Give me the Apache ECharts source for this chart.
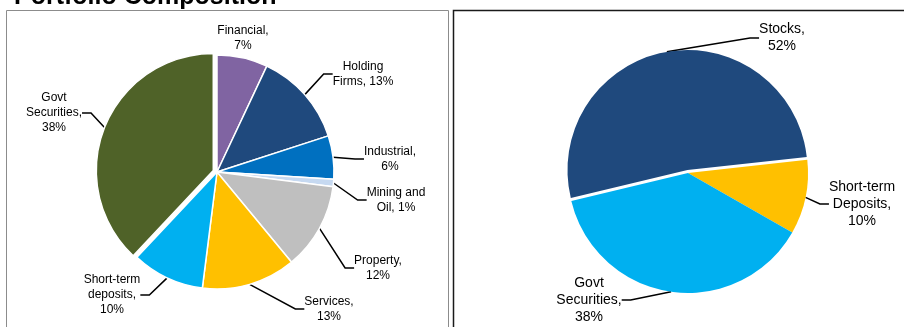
<!DOCTYPE html>
<html>
<head>
<meta charset="utf-8">
<script src="https://cdn.jsdelivr.net/npm/echarts@6/dist/echarts.min.js"></script>
<style>
  html, body { margin: 0; padding: 0; background: #fff; }
  #chart { width: 904px; height: 327px; }
</style>
</head>
<body>
<div id="chart"></div>
<script>
// left pie: sector split
const sectorNames = ['Financial', 'Holding Firms', 'Industrial', 'Mining and Oil', 'Property', 'Services', 'Short-term deposits', 'Govt Securities']
const sectorValues = [7, 13, 6, 1, 12, 13, 10, 38]
const sectorLabelText = ['Financial,', 'Holding\nFirms,', 'Industrial,', 'Mining and\nOil,', 'Property,', 'Services,', 'Short-term\ndeposits,', 'Govt\nSecurities,']
const sectorPctSameLine = [false, true, false, true, false, false, false, false]

// right pie: asset split
const assetNames = ['Stocks', 'Short-term Deposits', 'Govt Securities']
const assetValues = [52, 10, 38]
const assetLabelText = ['Stocks,', 'Short-term\nDeposits,', 'Govt\nSecurities,']

const sectorColors = ['#8064A2', '#1F497D', '#0070C0', '#C6D9F1', '#BFBFBF', '#FFC000', '#00B0F0', '#4F6228']
const assetColors = ['#1F497D', '#FFC000', '#00B0F0']

// label centres (px)
const sectorLabelPos = [[243, 38], [363, 74], [390, 159], [396, 200], [378, 268], [329, 309], [112, 295], [54, 113]]
const assetLabelPos = [[782, 38], [862, 204], [589, 300]]

const font = "'Liberation Sans', Arial, sans-serif"
const chart = echarts.init(document.getElementById('chart'))

// centre of an exploded slice: pull it out along its mid angle
function pulledCenter(center, values, idx, startAngle, offset) {
    const total = values.reduce((a, b) => a + b, 0)
    const before = values.slice(0, idx).reduce((a, b) => a + b, 0)
    const mid = (startAngle - (before + values[idx] / 2) / total * 360) * Math.PI / 180
    return [center[0] + Math.cos(mid) * offset, center[1] - Math.sin(mid) * offset]
}

// one pie drawn as two layers: base with the pulled slice hidden, top with only that slice
function pieLayers(opt) {
    const common = (visible) => ({
        type: 'pie',
        radius: opt.radius,
        startAngle: opt.startAngle,
        clockwise: true,
        silent: true,
        selectedMode: false,
        emphasis: { disabled: true },
        label: {
            color: '#000',
            fontFamily: font,
            fontSize: opt.fontSize,
            lineHeight: opt.lineHeight,
            align: 'center',
            overflow: 'none',
            formatter: opt.formatter
        },
        labelLine: { show: true, length: 8, length2: 9, lineStyle: { color: '#000', width: 1.5 } },
        labelLayout: (params) => {
            const p = opt.labelPos[params.dataIndex]
            return { x: p[0], y: p[1], align: 'center', verticalAlign: 'middle' }
        },
        data: opt.names.map((n, i) => {
            const show = visible(i)
            return {
                name: n,
                value: opt.values[i],
                itemStyle: show
                    ? { color: opt.colors[i], borderColor: '#fff', borderWidth: opt.borderWidth }
                    : { color: 'rgba(0,0,0,0)', borderWidth: 0 },
                label: { show: show },
                labelLine: { show: show && opt.names[i] !== opt.noLine }
            }
        })
    })
    const base = common((i) => i !== opt.pulled)
    base.center = opt.center
    const top = common((i) => i === opt.pulled)
    top.center = pulledCenter(opt.center, opt.values, opt.pulled, opt.startAngle, opt.offset)
    return [base, top]
}

chart.setOption({
    animation: false,
    title: {
        text: 'Portfolio Composition',
        left: 9,
        top: -20,
        textStyle: { fontFamily: font, fontSize: 25, fontWeight: 'bold', color: '#000' }
    },
    graphic: [
        { type: 'rect', shape: { x: 6.5, y: 10.5, width: 442, height: 340 }, style: { fill: 'none', stroke: '#8c8c8c', lineWidth: 1 } },
        { type: 'rect', shape: { x: 453.5, y: 10.5, width: 470, height: 340 }, style: { fill: 'none', stroke: '#1a1a1a', lineWidth: 1.5 } }
    ],
    series: [
        ...pieLayers({
            names: sectorNames,
            values: sectorValues,
            colors: sectorColors,
            labelPos: sectorLabelPos,
            center: [217, 172],
            radius: 117,
            startAngle: 90,
            pulled: sectorNames.indexOf('Govt Securities'),
            offset: 4,
            borderWidth: 1.5,
            fontSize: 12,
            lineHeight: 15,
            noLine: 'Financial',
            formatter: (p) => sectorLabelText[p.dataIndex] + (sectorPctSameLine[p.dataIndex] ? ' ' : '\n') + p.value + '%'
        }),
        ...pieLayers({
            names: assetNames,
            values: assetValues,
            colors: assetColors,
            labelPos: assetLabelPos,
            center: [688, 173],
            radius: 120,
            startAngle: 193.5,
            pulled: assetNames.indexOf('Stocks'),
            offset: 3,
            borderWidth: 0,
            fontSize: 14,
            lineHeight: 17,
            noLine: null,
            formatter: (p) => assetLabelText[p.dataIndex] + '\n' + p.value + '%'
        })
    ]
})
</script>
</body>
</html>
